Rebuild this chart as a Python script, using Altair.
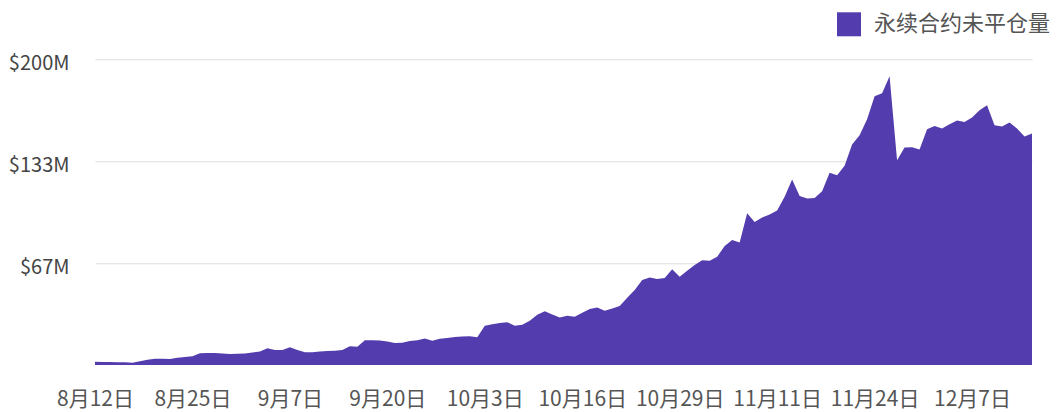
import altair as alt
import pandas as pd

# Perpetual open interest, millions USD, daily from 2021-08-12
start_date = "2021-08-12"
oi_values = [
    2.2, 2.0, 1.9, 1.8, 1.8, 1.5, 2.5, 3.4, 4.1, 4.1,
    3.9, 4.8, 5.2, 5.7, 7.7, 7.9, 7.9, 7.5, 7.2, 7.3,
    7.5, 8.1, 8.9, 11.0, 9.8, 9.8, 11.6, 9.8, 8.3, 8.3,
    8.8, 9.2, 9.4,
    9.8, 12.3, 12.0, 16.2, 16.2, 16.1, 15.4, 14.4, 14.6, 15.7,
    16.2, 17.4, 15.9, 17.2, 17.7, 18.4, 18.7, 18.8, 18.2, 25.6,
    26.6, 27.4, 28.0, 25.6, 26.4, 29.0, 32.8, 35.2, 33.1, 31.1,
    32.2, 31.6, 34.2, 36.6, 37.7, 35.5, 37.0, 38.6, 44.0, 49.0,
    55.6, 57.3, 56.2, 57.0, 62.7, 57.7, 61.6, 65.4, 68.6, 68.2,
    70.8, 77.8, 81.7, 80.2, 99.2, 93.5, 96.5, 98.5, 101.1, 110.0,
    121.4, 110.5, 109.0, 109.2, 113.7, 125.7, 124.2, 130.3, 144.2, 150.3,
    160.8, 175.8, 177.8, 188.9, 134.0, 142.3, 142.5, 141.0, 154.2, 156.4,
    154.7, 157.5, 160.0, 159.0, 161.9, 166.7, 170.0, 156.9, 156.0, 158.6,
    154.7, 149.5, 151.4,
]
series_name = "永续合约未平仓量"
tick_dates = [(2021, 8, 12), (2021, 8, 25), (2021, 9, 7), (2021, 9, 20), (2021, 10, 3),
              (2021, 10, 16), (2021, 10, 29), (2021, 11, 11), (2021, 11, 24), (2021, 12, 7)]
y_ticks = [200 / 3, 400 / 3, 200]

dates = pd.date_range(start_date, periods=len(oi_values), freq="D")
df = pd.DataFrame({
    "date": dates.strftime("%Y-%m-%d"),
    "oi": oi_values,
    "series": series_name,
})

FONT = "Noto Sans CJK SC"
PURPLE = "#533cad"

chart = alt.Chart(df).mark_area(interpolate="linear", opacity=1).encode(
    x=alt.X(
        "date:T",
        scale=alt.Scale(type="utc", nice=False,
                        domain=[alt.DateTime(year=2021, month=8, date=12, utc=True),
                                alt.DateTime(year=2021, month=12, date=15, utc=True)]),
        axis=alt.Axis(
            title=None,
            values=[alt.DateTime(year=y, month=m, date=d, utc=True) for (y, m, d) in tick_dates],
            labelExpr="utcFormat(datum.value, '%-m月%-d日')",
            domain=False, ticks=False, grid=False,
            labelFontSize=21, labelColor="#555555", labelFont=FONT,
            labelPadding=23, labelFlush=False, labelOverlap=False,
        ),
    ),
    y=alt.Y(
        "oi:Q",
        scale=alt.Scale(domain=[0, 200], nice=False),
        axis=alt.Axis(
            title=None,
            values=y_ticks,
            labelExpr="'$' + format(datum.value, '.0f') + 'M'",
            domain=False, ticks=False,
            grid=True, gridColor="#dddddd", gridWidth=1,
            labelFontSize=20, labelColor="#444444", labelFont=FONT,
            labelPadding=26, labelOffset=4,
        ),
    ),
    color=alt.Color(
        "series:N",
        scale=alt.Scale(domain=[series_name], range=[PURPLE]),
        legend=alt.Legend(
            title=None, orient="none", legendX=742, legendY=-47,
            symbolType="square", symbolSize=576, symbolStrokeWidth=0,
            symbolFillColor=PURPLE, symbolOpacity=1,
            labelFontSize=22, labelColor="#555555", labelFont=FONT,
            labelOffset=13, labelLimit=400,
        ),
    ),
).properties(
    width=937,
    height=305.7,
    autosize=alt.AutoSizeParams(type="none"),
    padding={"left": 87, "top": 51.3, "right": 23, "bottom": 46},
).configure_view(stroke="transparent")

chart.save("out.html", embed_options={"renderer": "svg", "actions": False})
